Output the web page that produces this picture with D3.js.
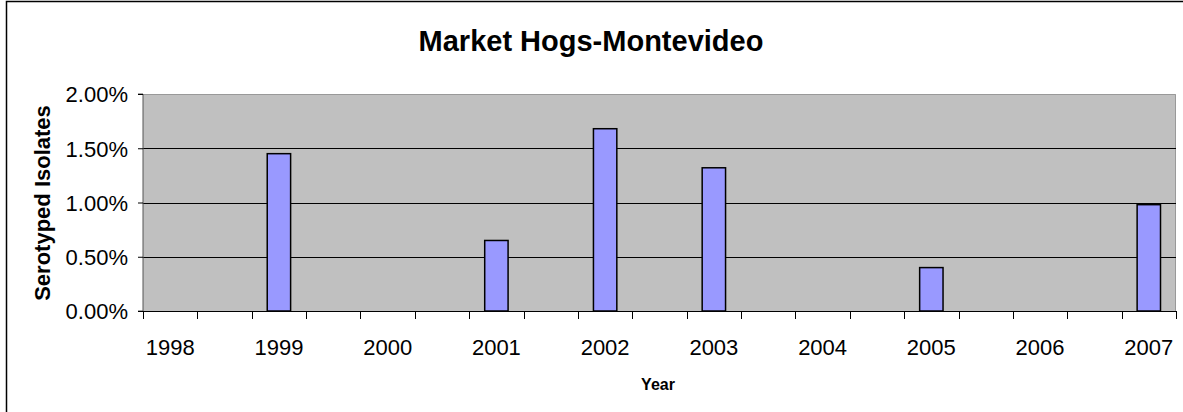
<!DOCTYPE html>
<html><head><meta charset="utf-8">
<script src="https://cdn.jsdelivr.net/npm/d3@7"></script>
<style>body{margin:0;background:#fff}svg{display:block}text{font-family:"Liberation Sans",Arial,sans-serif}</style>
</head><body><svg id="c" width="1183" height="412"></svg>
<script>
const categories = ["1998","","1999","","2000","","2001","","2002","","2003","","2004","","2005","","2006","","2007"];
const values = [null,null,0.0145,null,null,null,0.0065,null,0.0168,null,0.0132,null,null,null,0.0040,null,null,null,0.0098];
const yTicks = [0,0.005,0.01,0.015,0.02];
const title = "Market Hogs-Montevideo";
const xTitle = "Year";
const yTitle = "Serotyped Isolates";

const svg = d3.select("#c");
const m = {l:143, r:1176, t:94, b:311};
svg.append("path").attr("d","M6.5,412V1.5H1183").attr("fill","none").attr("stroke","#000").attr("stroke-width",1.5);

const x = d3.scaleBand().domain(d3.range(categories.length)).range([m.l,m.r]).paddingInner(0.57).paddingOuter(0.285);
const xb = d3.scaleBand().domain(d3.range(categories.length)).range([m.l,m.r]);
const y = d3.scaleLinear().domain([0,0.02]).range([m.b,m.t]);

svg.append("rect").attr("x",m.l).attr("y",m.t).attr("width",m.r-m.l).attr("height",m.b-m.t).attr("fill","#C0C0C0");
svg.append("path").attr("d",`M${m.l},${m.t+0.5}H${m.r-0.5}V${m.b}`).attr("fill","none").attr("stroke","#999").attr("stroke-width",1);

svg.append("g").selectAll("line").data(yTicks.filter(d=>d>0 && d<0.02)).join("line")
  .attr("x1",m.l).attr("x2",m.r).attr("y1",d=>Math.round(y(d))+0.5).attr("y2",d=>Math.round(y(d))+0.5)
  .attr("stroke","#000").attr("stroke-width",1);

svg.append("g").selectAll("rect").data(values.map((v,i)=>({v,i})).filter(d=>d.v!=null)).join("rect")
  .attr("x",d=>x(d.i)).attr("width",x.bandwidth()).attr("y",d=>y(d.v)).attr("height",d=>y(0)-y(d.v))
  .attr("fill","#9999FF").attr("stroke","#000").attr("stroke-width",1.5);

const ya = d3.axisLeft(y).tickValues(yTicks).tickFormat(d3.format(".2%")).tickSize(5).tickPadding(10);
const gy = svg.append("g").attr("transform",`translate(${m.l},0)`).call(ya);
gy.select(".domain").attr("stroke","#555").attr("d",`M-5,${m.t}H0V${m.b}H-5`);
gy.selectAll(".tick line").attr("stroke","#000");
gy.selectAll("text").attr("font-size",22).attr("fill","#000").attr("dy","0.36em").attr("font-family","Liberation Sans, Arial, sans-serif");

const xTickPos = d3.range(categories.length+1).map(i=> i<categories.length ? xb(i) : m.r);
const gx = svg.append("g");
gx.append("line").attr("x1",m.l).attr("x2",m.r).attr("y1",m.b+0.5).attr("y2",m.b+0.5).attr("stroke","#000");
gx.selectAll("line.t").data(xTickPos).join("line").attr("class","t")
  .attr("x1",d=>Math.round(d)+0.5).attr("x2",d=>Math.round(d)+0.5).attr("y1",m.b).attr("y2",m.b+8).attr("stroke","#000");
gx.selectAll("text").data(categories.map((c,i)=>({c,i})).filter(d=>d.c!=="")).join("text")
  .attr("x",d=>xb(d.i)+xb.bandwidth()/2).attr("y",355).attr("text-anchor","middle")
  .attr("font-size",22).text(d=>d.c);

svg.append("text").attr("x",591).attr("y",51).attr("text-anchor","middle").attr("font-size",29).attr("font-weight","bold").text(title);
svg.append("text").attr("x",658).attr("y",390).attr("text-anchor","middle").attr("font-size",16).attr("font-weight","bold").text(xTitle);
svg.append("text").attr("transform","translate(50,203) rotate(-90)").attr("text-anchor","middle").attr("font-size",22).attr("font-weight","bold").text(yTitle);
</script></body></html>
